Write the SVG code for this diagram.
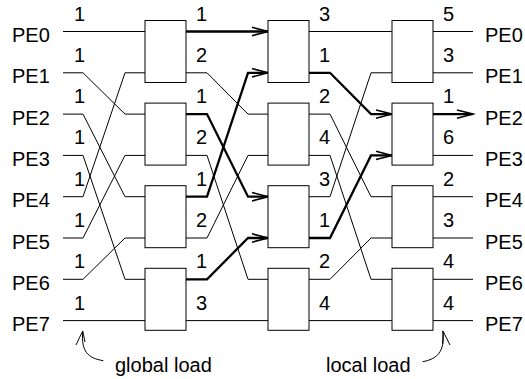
<svg xmlns="http://www.w3.org/2000/svg" width="525" height="379" viewBox="0 0 525 379">
<style>
text{font-family:"Liberation Sans",Arial,sans-serif;font-size:20px;fill:#000}
.thin{fill:none;stroke:#000;stroke-width:1}
.bold{fill:none;stroke:#000;stroke-width:2.3;stroke-linejoin:miter}
.box{fill:#fff;stroke:#000;stroke-width:1}
</style>
<defs>
<marker id="arr" markerUnits="userSpaceOnUse" markerWidth="22" markerHeight="14" refX="18" refY="7" orient="auto" overflow="visible">
<path d="M2,2.8 L18,7 L2,11.2" fill="none" stroke="#000" stroke-width="1.6"/>
</marker>
</defs>
<g id="connectors">
<path class="thin" d="M63,31.5 H145"/>
<path class="thin" d="M63,72.8 H83 L125,114.1 H145"/>
<path class="thin" d="M63,114.1 H83 L125,196.7 H145"/>
<path class="thin" d="M63,155.4 H83 L125,279.3 H145"/>
<path class="thin" d="M63,196.7 H83 L125,72.8 H145"/>
<path class="thin" d="M63,238 H83 L125,155.4 H145"/>
<path class="thin" d="M63,279.3 H83 L125,238 H145"/>
<path class="thin" d="M63,320.6 H145"/>
<path class="thin" d="M186,72.8 H207 L248,114.1 H268"/>
<path class="thin" d="M186,155.4 H207 L248,279.3 H268"/>
<path class="thin" d="M186,238 H207 L248,155.4 H268"/>
<path class="thin" d="M186,320.6 H268"/>
<path class="bold" marker-end="url(#arr)" d="M186,31.5 H268"/>
<path class="bold" marker-end="url(#arr)" d="M186,114.1 H207 L248,196.7 H268"/>
<path class="bold" marker-end="url(#arr)" d="M186,196.7 H207 L248,72.8 H268"/>
<path class="bold" marker-end="url(#arr)" d="M186,279.3 H207 L248,238 H268"/>
<path class="thin" d="M309,31.5 H392"/>
<path class="thin" d="M309,114.1 H330 L371,196.7 H392"/>
<path class="thin" d="M309,155.4 H330 L371,279.3 H392"/>
<path class="thin" d="M309,196.7 H330 L371,72.8 H392"/>
<path class="thin" d="M309,279.3 H330 L371,238 H392"/>
<path class="thin" d="M309,320.6 H392"/>
<path class="bold" marker-end="url(#arr)" d="M309,72.8 H330 L371,114.1 H392"/>
<path class="bold" marker-end="url(#arr)" d="M309,238 H330 L371,155.4 H392"/>
<path class="thin" d="M433,31.5 H473"/>
<path class="thin" d="M433,72.8 H473"/>
<path class="bold" marker-end="url(#arr)" d="M433,114.1 H473"/>
<path class="thin" d="M433,155.4 H473"/>
<path class="thin" d="M433,196.7 H473"/>
<path class="thin" d="M433,238 H473"/>
<path class="thin" d="M433,279.3 H473"/>
<path class="thin" d="M433,320.6 H473"/>
<path class="thin" d="M103.3,360.7 C88,358 81,352 82.7,331"/>
<path class="thin" d="M76,345 L82.7,331 L85,342"/>
<path class="thin" d="M422.7,361.7 C437,359 445,352 443,331"/>
<path class="thin" d="M450,345 L443,331 L442.7,344"/>
</g>
<g id="stage1">
<rect id="s1b0" class="box" x="145" y="20.5" width="41" height="62"/>
<rect id="s1b1" class="box" x="145" y="103.1" width="41" height="62"/>
<rect id="s1b2" class="box" x="145" y="185.7" width="41" height="62"/>
<rect id="s1b3" class="box" x="145" y="268.3" width="41" height="62"/>
</g>
<g id="stage2">
<rect id="s2b0" class="box" x="268" y="20.5" width="41" height="62"/>
<rect id="s2b1" class="box" x="268" y="103.1" width="41" height="62"/>
<rect id="s2b2" class="box" x="268" y="185.7" width="41" height="62"/>
<rect id="s2b3" class="box" x="268" y="268.3" width="41" height="62"/>
</g>
<g id="stage3">
<rect id="s3b0" class="box" x="392" y="20.5" width="41" height="62"/>
<rect id="s3b1" class="box" x="392" y="103.1" width="41" height="62"/>
<rect id="s3b2" class="box" x="392" y="185.7" width="41" height="62"/>
<rect id="s3b3" class="box" x="392" y="268.3" width="41" height="62"/>
</g>
<g id="left-labels">
<text x="12" y="42">PE0</text>
<text x="12" y="83.3">PE1</text>
<text x="12" y="124.6">PE2</text>
<text x="12" y="165.9">PE3</text>
<text x="12" y="207.2">PE4</text>
<text x="12" y="248.5">PE5</text>
<text x="12" y="289.8">PE6</text>
<text x="12" y="331.1">PE7</text>
</g>
<g id="right-labels">
<text x="485" y="42">PE0</text>
<text x="485" y="83.3">PE1</text>
<text x="485" y="124.6">PE2</text>
<text x="485" y="165.9">PE3</text>
<text x="485" y="207.2">PE4</text>
<text x="485" y="248.5">PE5</text>
<text x="485" y="289.8">PE6</text>
<text x="485" y="331.1">PE7</text>
</g>
<g id="loads-in">
<text x="74" y="20.5">1</text>
<text x="74" y="61.8">1</text>
<text x="74" y="103.1">1</text>
<text x="74" y="144.4">1</text>
<text x="74" y="185.7">1</text>
<text x="74" y="227">1</text>
<text x="74" y="268.3">1</text>
<text x="74" y="309.6">1</text>
</g>
<g id="loads-s1">
<text x="196" y="20.5">1</text>
<text x="196" y="61.8">2</text>
<text x="196" y="103.1">1</text>
<text x="196" y="144.4">2</text>
<text x="196" y="185.7">1</text>
<text x="196" y="227">2</text>
<text x="196" y="268.3">1</text>
<text x="196" y="309.6">3</text>
</g>
<g id="loads-s2">
<text x="319" y="20.5">3</text>
<text x="319" y="61.8">1</text>
<text x="319" y="103.1">2</text>
<text x="319" y="144.4">4</text>
<text x="319" y="185.7">3</text>
<text x="319" y="227">1</text>
<text x="319" y="268.3">2</text>
<text x="319" y="309.6">4</text>
</g>
<g id="loads-s3">
<text x="443" y="20.5">5</text>
<text x="443" y="61.8">3</text>
<text x="443" y="103.1">1</text>
<text x="443" y="144.4">6</text>
<text x="443" y="185.7">2</text>
<text x="443" y="227">3</text>
<text x="443" y="268.3">4</text>
<text x="443" y="309.6">4</text>
</g>
<g id="captions">
<text x="115" y="372">global load</text>
<text x="326" y="372">local load</text>
</g>
</svg>
